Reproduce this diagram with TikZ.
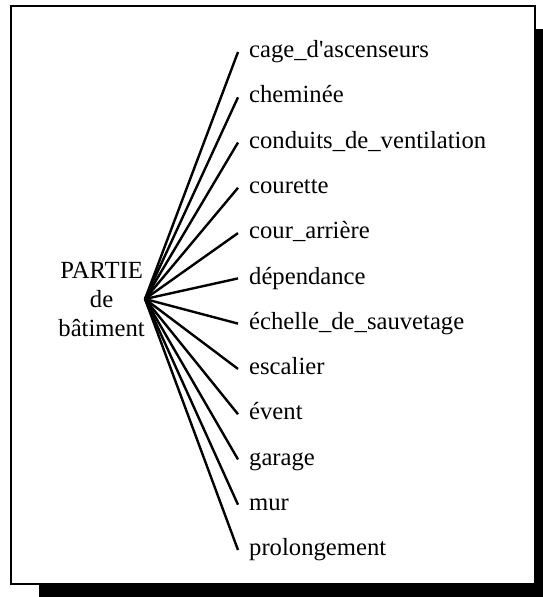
\documentclass[tikz,border=0pt]{standalone}
\usepackage{fontspec}
\setmainfont{Liberation Serif}
\begin{document}
\begin{tikzpicture}[
  x=0.75pt, y=-0.75pt,
  frame/.style={draw=black, fill=white, line width=1.8pt},
  part/.style={align=center, inner sep=0pt, font=\fontsize{18.5}{21.75}\selectfont},
  item/.style={anchor=west, inner xsep=8.2pt, inner ysep=0pt, text height=13pt, text depth=4.6pt, font=\fontsize{18.5}{22}\selectfont},
  spoke/.style={black, line width=1.8pt}
]
\useasboundingbox (0,0) rectangle (543,597);
% shadow and frame
\begin{scope}
  \clip (0,0) rectangle (543,597);
  \fill[black] (39,29) rectangle (560,620);
\end{scope}
\draw[frame] (11,6) rectangle (535,584);

% whole
\node[part, anchor=east] (part) at (145,299) {PARTIE\\de\\bâtiment};

% parts
\node[item] (cage) at (238,52) {cage\_d\textquotesingle ascenseurs};
\node[item] (chem) at (238,97.3) {cheminée};
\node[item] (cond) at (238,142.5) {conduits\_de\_ventilation};
\node[item] (cour) at (238,187.8) {courette};
\node[item] (arri) at (238,233.1) {cour\_arrière};
\node[item] (depe) at (238,278.4) {dépendance};
\node[item] (eche) at (238,323.6) {échelle\_de\_sauvetage};
\node[item] (esca) at (238,368.9) {escalier};
\node[item] (even) at (238,414.2) {évent};
\node[item] (gara) at (238,459.4) {garage};
\node[item] (mur) at (238,504.7) {mur};
\node[item] (prol) at (238,550) {prolongement};

% spokes
\draw[spoke] (part.east) -- (cage.west);
\draw[spoke] (part.east) -- (chem.west);
\draw[spoke] (part.east) -- (cond.west);
\draw[spoke] (part.east) -- (cour.west);
\draw[spoke] (part.east) -- (arri.west);
\draw[spoke] (part.east) -- (depe.west);
\draw[spoke] (part.east) -- (eche.west);
\draw[spoke] (part.east) -- (esca.west);
\draw[spoke] (part.east) -- (even.west);
\draw[spoke] (part.east) -- (gara.west);
\draw[spoke] (part.east) -- (mur.west);
\draw[spoke] (part.east) -- (prol.west);
\end{tikzpicture}
\end{document}
